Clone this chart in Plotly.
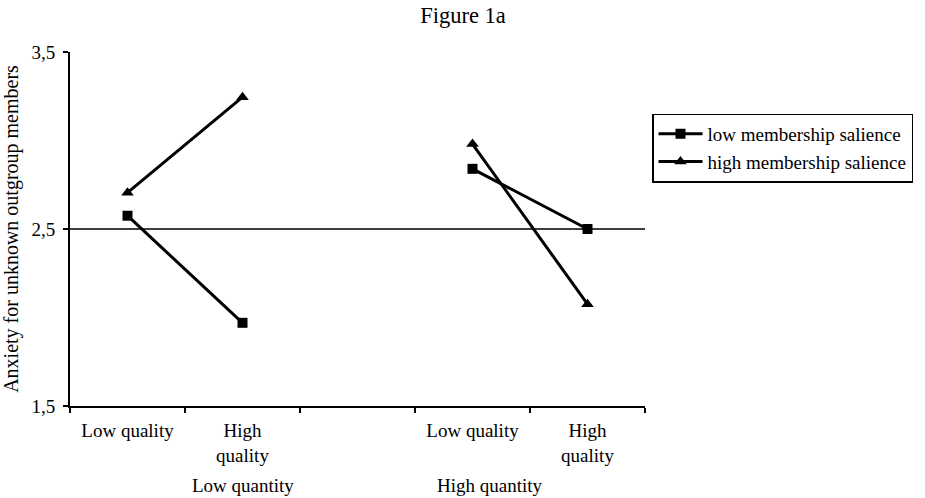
import plotly.graph_objects as go

categories = ["LQn-LQl", "LQn-HQl", "gap", "HQn-LQl", "HQn-HQl"]
tick_labels = ["Low quality", "High<br>quality", "", "Low quality", "High<br>quality"]
group_labels = ["Low quantity", "High quantity"]
low_salience = [2.575, 1.97, None, 2.84, 2.50]
high_salience = [2.705, 3.245, None, 2.98, 2.075]
y_ticks = [1.5, 2.5, 3.5]
y_tick_labels = ["1,5", "2,5", "3,5"]
reference_value = 2.5

FONT = "Liberation Serif, Times New Roman, serif"

fig = go.Figure()
fig.add_trace(go.Scatter(
    x=categories, y=low_salience, name="low membership salience",
    mode="lines+markers", connectgaps=False,
    line=dict(color="black", width=3),
    marker=dict(symbol="square", size=10, color="black"),
))
fig.add_trace(go.Scatter(
    x=categories, y=high_salience, name="high membership salience",
    mode="lines+markers", connectgaps=False,
    line=dict(color="black", width=3),
    marker=dict(symbol="triangle-up", size=11, color="black"),
))

fig.add_shape(type="line", xref="paper", x0=0, x1=1, yref="y",
              y0=reference_value, y1=reference_value,
              line=dict(color="black", width=1.5))

fig.update_layout(
    width=925, height=498,
    margin=dict(l=70, r=280, t=52, b=92, autoexpand=False),
    paper_bgcolor="white", plot_bgcolor="white",
    font=dict(family=FONT, size=18, color="black"),
    title=dict(text="Figure 1a", x=463 / 925, xanchor="center",
               y=1 - 15 / 498, yanchor="middle",
               font=dict(family=FONT, size=22.5, color="black")),
    showlegend=True,
    legend=dict(x=652 / 925, xanchor="left", y=1 - 148 / 498, yanchor="middle",
                xref="container", yref="container",
                bordercolor="black", borderwidth=1.5,
                font=dict(family=FONT, size=19, color="black"),
                tracegroupgap=0, itemwidth=44),
)

fig.update_xaxes(
    type="category", categoryorder="array", categoryarray=categories,
    range=[-0.5, 4.5], tickmode="array", tickvals=categories, ticktext=tick_labels,
    tickson="boundaries", ticks="outside", ticklen=5, tickcolor="black", tickwidth=1.5,
    showline=True, linecolor="black", linewidth=2, showgrid=False,
    tickfont=dict(family=FONT, size=19, color="black"), ticklabelstandoff=6,
)
fig.update_yaxes(
    range=[1.5, 3.5], tickmode="array", tickvals=y_ticks, ticktext=y_tick_labels,
    ticks="outside", ticklen=5, tickcolor="black", tickwidth=1.5,
    showline=True, linecolor="black", linewidth=2,
    showgrid=True, gridcolor="#eeeeee", gridwidth=1, zeroline=False,
    tickfont=dict(family=FONT, size=19, color="black"), ticklabelstandoff=4,
    title=dict(text="Anxiety for unknown outgroup members",
               font=dict(family=FONT, size=20, color="black"), standoff=10),
)

group_x = [243, 490]
for label, gx in zip(group_labels, group_x):
    fig.add_annotation(text=label, xref="paper", yref="paper",
                       x=(gx - 70) / 575, y=-(485 - 406) / 354,
                       xanchor="center", yanchor="middle", showarrow=False,
                       font=dict(family=FONT, size=19, color="black"))

fig.write_html("out.html", config={"displayModeBar": False},
               post_script="document.body.style.margin='0';document.body.style.padding='0';")
